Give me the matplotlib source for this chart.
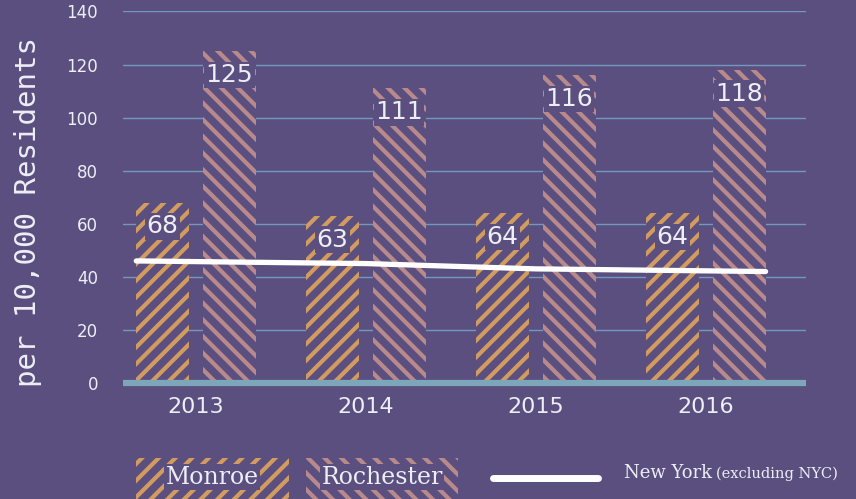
import numpy as np
import matplotlib
matplotlib.use("Agg")
import matplotlib.pyplot as plt
from matplotlib.patches import Rectangle
from matplotlib.lines import Line2D

years = ["2013", "2014", "2015", "2016"]
monroe = [68, 63, 64, 64]
rochester = [125, 111, 116, 118]
new_york = [46, 45, 43, 42]

bg = "#5b4f80"
orange = "#d39c5f"
pink = "#b98a8c"
grid_col = "#7399ba"
base_col = "#7ea6bb"
txt = "#eeeef5"

plt.rcParams["hatch.linewidth"] = 3.0

fig = plt.figure(figsize=(8.56, 4.99), dpi=100, facecolor=bg)
ax = fig.add_axes([0.1437, 0.2325, 0.7979, 0.7445])
ax.set_facecolor(bg)

x = np.arange(len(years))
w = 0.31
off = 0.197

ax.bar(x - off, monroe, w, facecolor=bg, edgecolor=orange, hatch="//", linewidth=0, zorder=2)
ax.bar(x + off, rochester, w, facecolor=bg, edgecolor=pink, hatch="\\\\", linewidth=0, zorder=2)

lbl_box = dict(boxstyle="square,pad=0.05", fc=bg, ec="none")
for xi, v in zip(x - off, monroe):
    ax.text(xi, v - 9, str(v), ha="center", va="center", color=txt, fontsize=18,
            bbox=lbl_box, zorder=4)
for xi, v in zip(x + off, rochester):
    ax.text(xi, v - 9, str(v), ha="center", va="center", color=txt, fontsize=18,
            bbox=lbl_box, zorder=4)

# line spans from left edge of first bar to right edge of last bar
lx = x.astype(float)
lx[0] = x[0] - off - w / 2
lx[-1] = x[-1] + off + w / 2
ax.plot(lx, new_york, color="white", lw=3.8, solid_capstyle="round", zorder=5)

ax.set_xlim(-0.43, 3.59)
ax.set_ylim(0, 140)
ax.set_yticks(range(0, 141, 20))
ax.grid(axis="y", color=grid_col, lw=1, zorder=1)
ax.axhline(0, color=base_col, lw=4.5, zorder=3, clip_on=False, solid_capstyle="butt")
for s in ax.spines.values():
    s.set_visible(False)
ax.tick_params(axis="y", length=0, pad=18, labelcolor=txt, labelsize=12)
ax.tick_params(axis="x", length=0, pad=10, labelcolor=txt, labelsize=16)
ax.set_xticks(x)
ax.set_xticklabels(years)
ax.set_ylabel("per 10,000 Residents", fontsize=21, color=txt, family="DejaVu Sans Mono")
ax.yaxis.set_label_coords(-0.118, 0.46)

# legend drawn in figure coords
fig.patches.append(Rectangle((136 / 856, 0), 153 / 856, 41 / 499, transform=fig.transFigure,
                             facecolor=bg, edgecolor=orange, hatch="//", linewidth=0))
fig.patches.append(Rectangle((306 / 856, 0), 152 / 856, 41 / 499, transform=fig.transFigure,
                             facecolor=bg, edgecolor=pink, hatch="\\\\", linewidth=0))
fig.text(212 / 856, 22 / 499, "Monroe", ha="center", va="center", color=txt, fontsize=17,
         family="DejaVu Serif", bbox=lbl_box)
fig.text(382 / 856, 22 / 499, "Rochester", ha="center", va="center", color=txt, fontsize=17,
         family="DejaVu Serif", bbox=lbl_box)
fig.lines.append(Line2D([493 / 856, 598 / 856], [21 / 499, 21 / 499], transform=fig.transFigure,
                        color="white", lw=5, solid_capstyle="round"))
ny = fig.text(624 / 856, 21 / 499, "New York", ha="left", va="baseline", color=txt,
              fontsize=13, family="DejaVu Serif")
fig.canvas.draw()
bb = ny.get_window_extent()
fig.text(bb.x1 / 856 + 4 / 856, 21 / 499, "(excluding NYC)", ha="left", va="baseline",
         color=txt, fontsize=10.5, family="DejaVu Serif")

fig.savefig("out.png", dpi=100, facecolor=bg)
